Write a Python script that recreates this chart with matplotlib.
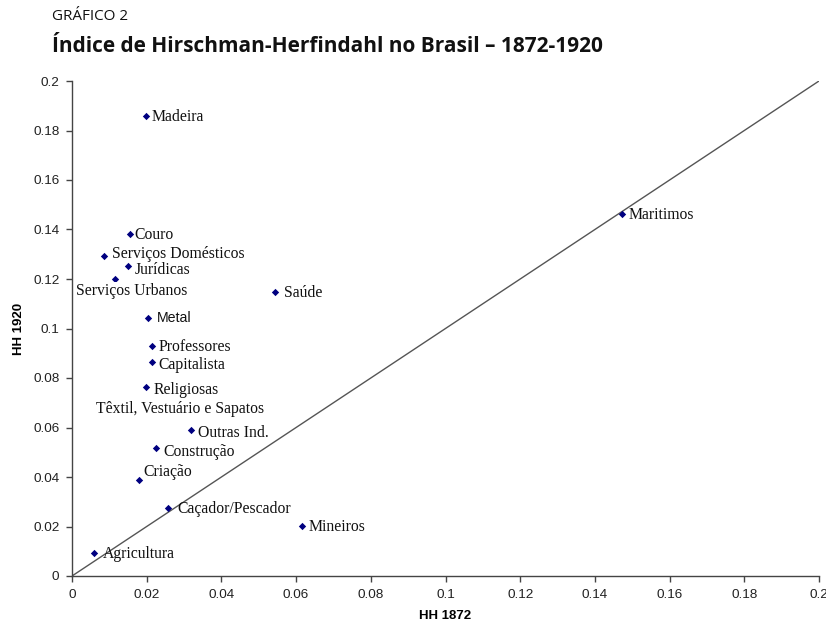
import matplotlib
matplotlib.use("Agg")
import matplotlib.pyplot as plt

# ---- data ----
categories = ["Madeira", "Couro", "Serviços Domésticos", "Jurídicas", "Serviços Urbanos",
              "Saúde", "Metal", "Professores", "Capitalista", "Religiosas",
              "Têxtil, Vestuário e Sapatos", "Outras Ind.", "Construção", "Criação",
              "Caçador/Pescador", "Mineiros", "Agricultura", "Maritimos"]
hh1872 = [0.0198, 0.0155, 0.0086, 0.0150, 0.0115,
          0.0543, 0.0203, 0.0214, 0.0214, 0.0198,
          0.0080, 0.0319, 0.0225, 0.0179,
          0.0257, 0.0616, 0.0059, 0.1473]
hh1920 = [0.1859, 0.1382, 0.1293, 0.1253, 0.1200,
          0.1147, 0.1042, 0.0929, 0.0865, 0.0764,
          0.0690, 0.0590, 0.0517, 0.0388,
          0.0275, 0.0202, 0.0093, 0.1463]
xticks = [0, 0.02, 0.04, 0.06, 0.08, 0.1, 0.12, 0.14, 0.16, 0.18, 0.2]
yticks = [0, 0.02, 0.04, 0.06, 0.08, 0.1, 0.12, 0.14, 0.16, 0.18, 0.2]
tick_labels = ["0", "0.02", "0.04", "0.06", "0.08", "0.1", "0.12", "0.14", "0.16", "0.18", "0.2"]

# label offsets in points (layout only)
offsets = {
    "Madeira": (4, -0.5), "Couro": (3.5, -0.5), "Serviços Domésticos": (5.5, 1.5),
    "Jurídicas": (4.5, -3), "Serviços Urbanos": (-28, -8.5), "Saúde": (6.5, -0.5),
    "Metal": (6.5, 0), "Professores": (5, -1), "Capitalista": (5, -2.5),
    "Religiosas": (5.5, -2.5), "Têxtil, Vestuário e Sapatos": (-4, -3),
    "Outras Ind.": (5, -2), "Construção": (5, -2.5), "Criação": (3.5, 5.5),
    "Caçador/Pescador": (6.5, -1), "Mineiros": (4.5, -1),
    "Agricultura": (6.5, -0.5), "Maritimos": (4.5, -1),
}

fig = plt.figure(figsize=(8.26, 6.26), dpi=100)
ax = fig.add_axes([72/826, 50/626, 747/826, 495/626])

ax.plot([0, 0.2], [0, 0.2], color="#555555", lw=1.0, zorder=1)
ax.scatter(hh1872, hh1920, marker="D", s=14, color="#000080", zorder=3, linewidths=0)

for name, x, y in zip(categories, hh1872, hh1920):
    dx, dy = offsets[name]
    fam = ["Liberation Sans"] if name == "Metal" else ["Liberation Serif"]
    kw = {}
    if name in ("Serviços Urbanos", "Têxtil, Vestuário e Sapatos"):
        kw["bbox"] = dict(facecolor="white", edgecolor="none", pad=0.3)
    ax.annotate(name, (x, y), xytext=(dx, dy), textcoords="offset points",
                ha="left", va="center", fontsize=11.3 if name != "Metal" else 10.2,
                family=fam, color="#111111", zorder=4, **kw)

ax.set_xlim(0, 0.2)
ax.set_ylim(0, 0.2)
ax.set_xticks(xticks)
ax.set_xticklabels(tick_labels)
ax.set_yticks(yticks)
ax.set_yticklabels(tick_labels)
for s in ("top", "right"):
    ax.spines[s].set_visible(False)
for s in ("left", "bottom"):
    ax.spines[s].set_color("#444444")
    ax.spines[s].set_linewidth(1.0)
ax.tick_params(direction="out", length=4, width=1, color="#444444",
               labelsize=9.7, labelcolor="#222222", pad=5)
for lab in ax.get_xticklabels() + ax.get_yticklabels():
    lab.set_family("Liberation Sans")

ax.set_xlabel("HH 1872", fontsize=9.5, fontweight="bold", family="Liberation Sans", labelpad=7)
ax.set_ylabel("HH 1920", fontsize=9.5, fontweight="bold", family="Liberation Sans", labelpad=6)

fig.text(52/826, 1 - 16/626, "GRÁFICO 2", fontsize=11, family="Open Sans",
         va="center", ha="left", color="#111111")
fig.text(52/826, 1 - 47/626, "Índice de Hirschman-Herfindahl no Brasil – 1872-1920",
         fontsize=15, fontweight="bold", family="Open Sans", va="center", ha="left",
         color="#111111")

fig.savefig("out.png", dpi=100)
